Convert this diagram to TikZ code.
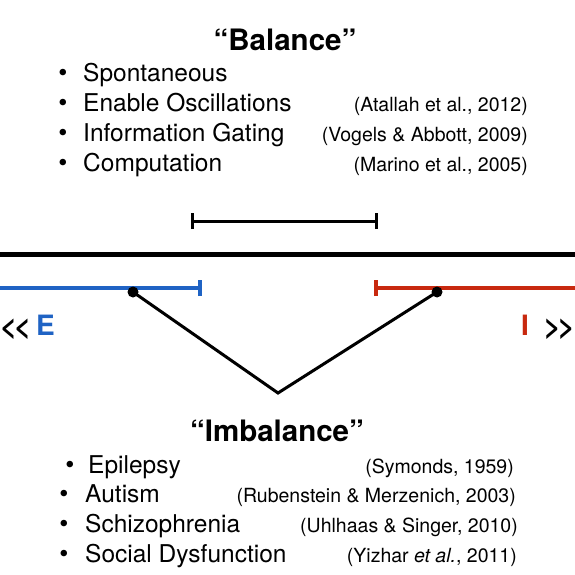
\documentclass[tikz,border=0pt]{standalone}
\usepackage{fontspec}
\setmainfont{TeX Gyre Heros}
\definecolor{eblue}{HTML}{1F63C4}
\definecolor{ired}{HTML}{C8290F}
\begin{document}
\begin{tikzpicture}[x=1pt,y=-1pt,
  title/.style={font=\fontsize{29.5}{31}\selectfont\bfseries, anchor=base, inner sep=0},
  item/.style={font=\fontsize{24.5}{26}\selectfont, anchor=base west, inner sep=0},
  bul/.style={font=\fontsize{26}{28}\selectfont, anchor=base, inner sep=0},
  cite/.style={font=\fontsize{19.5}{21}\selectfont, anchor=base east, inner sep=0},
  ei/.style={font=\fontsize{28}{30}\selectfont\bfseries, anchor=base, inner sep=0},
  chev/.style={font=\fontsize{29}{31}\selectfont\bfseries, inner sep=0},
  thin/.style={line width=3pt},
  colbar/.style={line width=3.6pt}]
\useasboundingbox (0,0) rectangle (575,575);
% Balance
\node[title] (bal) at (285,51) {``Balance''};
\node[bul] (b1) at (63,82) {\textbullet};
\node[item] (t1) at (83,82) {Spontaneous};
\node[bul] (b2) at (63,111) {\textbullet};
\node[item] (t2) at (83,111) {Enable Oscillations};
\node[cite] (c2) at (528,111) {(Atallah et al., 2012)};
\node[bul] (b3) at (63,141) {\textbullet};
\node[item] (t3) at (83,141) {Information Gating};
\node[cite] (c3) at (528,141) {(Vogels \& Abbott, 2009)};
\node[bul] (b4) at (63,171) {\textbullet};
\node[item] (t4) at (83,171) {Computation};
\node[cite] (c4) at (528,171) {(Marino et al., 2005)};
% balance range bar
\coordinate (r1) at (192,221);
\coordinate (r2) at (376,221);
\draw[thin] (r1) -- (r2);
\draw[thin] ([yshift=-8]r1) -- ([yshift=8]r1);
\draw[thin] ([yshift=-8]r2) -- ([yshift=8]r2);
% main axis
\coordinate (axL) at (0,254);
\coordinate (axR) at (575,254);
\draw[line width=5pt] (axL) -- (axR);
% E bar
\coordinate (eL) at (0,288);
\coordinate (eR) at (200,288);
\draw[eblue, colbar] (eL) -- (eR);
\draw[eblue, colbar] ([yshift=-8]eR) -- ([yshift=8]eR);
% I bar
\coordinate (iL) at (376,288);
\coordinate (iR) at (575,288);
\draw[ired, colbar] (iL) -- (iR);
\draw[ired, colbar] ([yshift=-8]iL) -- ([yshift=8]iL);
% V
\coordinate (d1) at (133,292);
\coordinate (d2) at (437,292);
\coordinate (vb) at (278,393);
\draw[thin] (d1) -- (vb) -- (d2);
\fill (d1) circle (5.5);
\fill (d2) circle (5.5);
% E / I labels
\node[chev, anchor=base west] (ltE) at (0,336) {{<}\kern-3pt{<}};
\node[ei, anchor=base west, text=eblue] (E) at (36,335) {E};
\node[ei, anchor=base east, text=ired] (I) at (529,335) {I};
\node[chev, anchor=base east] (gtI) at (575,336) {{>}\kern-3pt{>}};
% Imbalance
\node[title] (imb) at (277,441) {``Imbalance''};
\node[bul] (m1) at (70,473) {\textbullet};
\node[item] (u1) at (88,473) {Epilepsy};
\node[cite] (k1) at (514,473) {(Symonds, 1959)};
\node[bul] (m2) at (64,502) {\textbullet};
\node[item] (u2) at (85,502) {Autism};
\node[cite] (k2) at (516,502) {(Rubenstein \& Merzenich, 2003)};
\node[bul] (m3) at (64,532) {\textbullet};
\node[item] (u3) at (85,532) {Schizophrenia};
\node[cite] (k3) at (518,532) {(Uhlhaas \& Singer, 2010)};
\node[bul] (m4) at (64,562) {\textbullet};
\node[item] (u4) at (85,562) {Social Dysfunction};
\node[cite] (k4) at (517,562) {(Yizhar \textit{et al.}, 2011)};
\end{tikzpicture}
\end{document}
